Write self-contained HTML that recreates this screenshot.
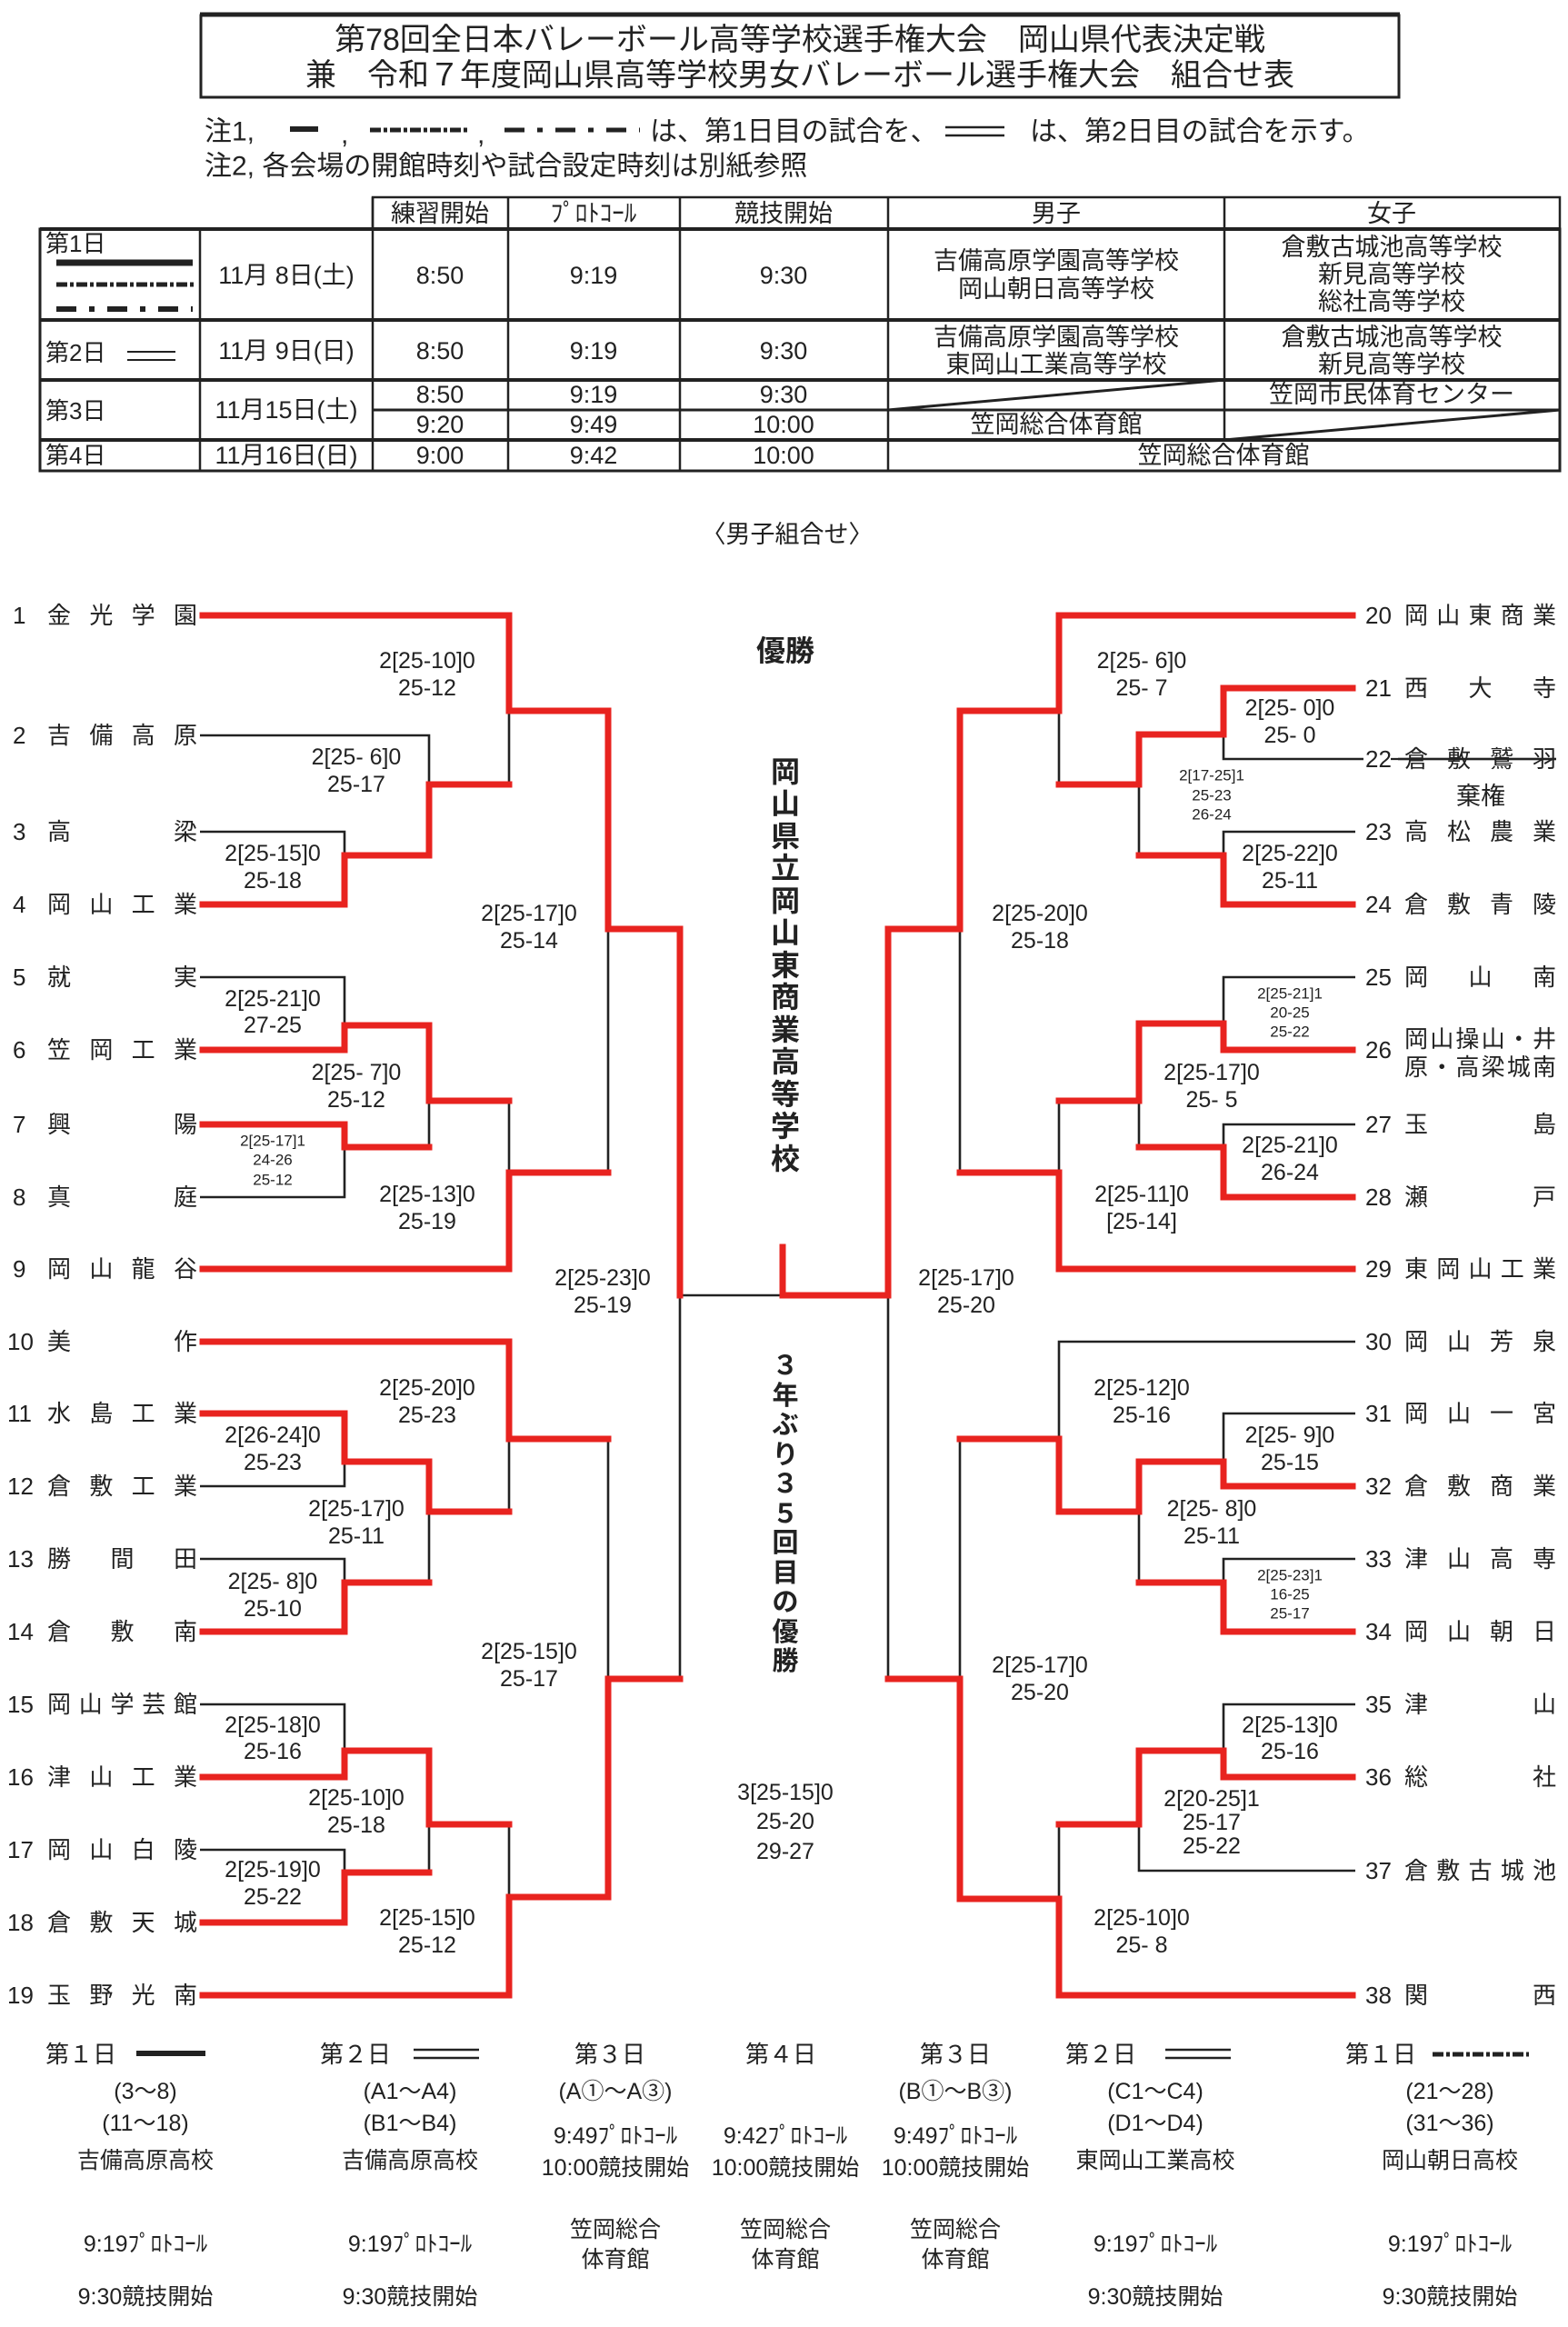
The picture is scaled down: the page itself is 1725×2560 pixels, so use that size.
<!DOCTYPE html>
<html><head><meta charset="utf-8">
<style>
html,body{margin:0;padding:0;background:#fff;}
svg{display:block;}
text{font-family:"Liberation Sans","Noto Sans CJK JP",sans-serif;fill:#222;}
.r{fill:none;stroke:#e8231f;stroke-width:7;stroke-linejoin:miter;stroke-linecap:square;}
.b{fill:none;stroke:#222;stroke-width:2.6;}
.lb{font-size:25px;text-anchor:middle;dominant-baseline:central;}
.sm{font-size:17px;text-anchor:middle;dominant-baseline:central;}
.nm{font-size:26px;dominant-baseline:central;}
.t{font-size:27px;text-anchor:middle;dominant-baseline:central;}
.bl{font-size:25px;text-anchor:middle;dominant-baseline:central;}
</style></head><body>
<svg width="1725" height="2560" viewBox="0 0 1725 2560" xmlns="http://www.w3.org/2000/svg">
<rect x="221" y="17" width="1318" height="90" fill="none" stroke="#222" stroke-width="3"/>
<line x1="220" y1="16" x2="1540" y2="16" stroke="#222" stroke-width="5"/>
<text x="880" y="44" font-size="34" text-anchor="middle" dominant-baseline="central">第78回全日本バレーボール高等学校選手権大会　岡山県代表決定戦</text>
<text x="880" y="83" font-size="34" text-anchor="middle" dominant-baseline="central">兼　令和７年度岡山県高等学校男女バレーボール選手権大会　組合せ表</text>
<text x="225" y="145" font-size="30" dominant-baseline="central">注1,</text>
<line x1="319" y1="142" x2="350" y2="142" stroke="#222" stroke-width="6"/>
<text x="375" y="148" font-size="30" dominant-baseline="central">,</text>
<line x1="407" y1="143" x2="517" y2="143" stroke="#222" stroke-width="5" stroke-dasharray="12,3,4,3"/>
<text x="525" y="148" font-size="30" dominant-baseline="central">,</text>
<line x1="555" y1="143" x2="704" y2="143" stroke="#222" stroke-width="5" stroke-dasharray="22,14,6,14"/>
<text x="715" y="145" font-size="30" dominant-baseline="central">は、第1日目の試合を、</text>
<line x1="1040" y1="140" x2="1105" y2="140" stroke="#222" stroke-width="2.5"/>
<line x1="1040" y1="149" x2="1105" y2="149" stroke="#222" stroke-width="2.5"/>
<text x="1133" y="145" font-size="30" dominant-baseline="central">は、第2日目の試合を示す。</text>
<text x="225" y="183" font-size="30" dominant-baseline="central">注2, 各会場の開館時刻や試合設定時刻は別紙参照</text>
<g stroke="#222" fill="none">
<rect x="410" y="217" width="1306" height="35" stroke-width="2.5"/>
<rect x="44" y="252" width="1672" height="266" stroke-width="3"/>
<line x1="44" y1="252" x2="1716" y2="252" stroke-width="4"/>
<line x1="44" y1="352" x2="1716" y2="352" stroke-width="4"/>
<line x1="44" y1="418" x2="1716" y2="418" stroke-width="4"/>
<line x1="410" y1="451" x2="1716" y2="451" stroke-width="3"/>
<line x1="44" y1="484" x2="1716" y2="484" stroke-width="4"/>
<line x1="220" y1="252" x2="220" y2="518" stroke-width="2.5"/>
<line x1="410" y1="217" x2="410" y2="518" stroke-width="2.5"/>
<line x1="559" y1="217" x2="559" y2="518" stroke-width="2.5"/>
<line x1="748" y1="217" x2="748" y2="518" stroke-width="2.5"/>
<line x1="977" y1="217" x2="977" y2="518" stroke-width="2.5"/>
<line x1="1347" y1="217" x2="1347" y2="484" stroke-width="2.5"/>
<line x1="977" y1="451" x2="1347" y2="418" stroke-width="3"/>
<line x1="1347" y1="484" x2="1716" y2="451" stroke-width="3"/>
<line x1="62" y1="289" x2="212" y2="289" stroke-width="7"/>
<line x1="62" y1="313" x2="216" y2="313" stroke-width="5" stroke-dasharray="12,3,4,3"/>
<line x1="62" y1="340" x2="212" y2="340" stroke-width="6" stroke-dasharray="22,14,6,14"/>
<line x1="140" y1="387" x2="193" y2="387" stroke-width="2"/>
<line x1="140" y1="396" x2="193" y2="396" stroke-width="2"/>
</g>
<text class="t" x="484" y="235">練習開始</text>
<text class="t" x="653" y="235" font-size="20">ﾌﾟﾛﾄｺｰﾙ</text>
<text class="t" x="862" y="235">競技開始</text>
<text class="t" x="1162" y="235">男子</text>
<text class="t" x="1531" y="235">女子</text>
<text class="nm" x="50" y="268">第1日</text>
<text class="t" x="315" y="303">11月 8日(土)</text>
<text class="t" x="484" y="303">8:50</text><text class="t" x="653" y="303">9:19</text><text class="t" x="862" y="303">9:30</text>
<text class="t" x="1162" y="287">吉備高原学園高等学校</text>
<text class="t" x="1162" y="318">岡山朝日高等学校</text>
<text class="t" x="1531" y="272">倉敷古城池高等学校</text>
<text class="t" x="1531" y="302">新見高等学校</text>
<text class="t" x="1531" y="332">総社高等学校</text>
<text class="nm" x="50" y="388">第2日</text>
<text class="t" x="315" y="386">11月 9日(日)</text>
<text class="t" x="484" y="386">8:50</text><text class="t" x="653" y="386">9:19</text><text class="t" x="862" y="386">9:30</text>
<text class="t" x="1162" y="371">吉備高原学園高等学校</text>
<text class="t" x="1162" y="401">東岡山工業高等学校</text>
<text class="t" x="1531" y="371">倉敷古城池高等学校</text>
<text class="t" x="1531" y="401">新見高等学校</text>
<text class="nm" x="50" y="452">第3日</text>
<text class="t" x="315" y="451">11月15日(土)</text>
<text class="t" x="484" y="434">8:50</text><text class="t" x="653" y="434">9:19</text><text class="t" x="862" y="434">9:30</text>
<text class="t" x="1531" y="434">笠岡市民体育センター</text>
<text class="t" x="484" y="467">9:20</text><text class="t" x="653" y="467">9:49</text><text class="t" x="862" y="467">10:00</text>
<text class="t" x="1162" y="467">笠岡総合体育館</text>
<text class="nm" x="50" y="501">第4日</text>
<text class="t" x="315" y="501">11月16日(日)</text>
<text class="t" x="484" y="501">9:00</text><text class="t" x="653" y="501">9:42</text><text class="t" x="862" y="501">10:00</text>
<text class="t" x="1346" y="501">笠岡総合体育館</text>
<text class="t" x="866" y="588" font-size="32">〈男子組合せ〉</text>

<path class="b" d="M560 782V863 M669 1022V1290 M748 1425H861 M220 809H472V941 M220 915H379V941 M220 1075H379V1128 M220 1317H379V1262 M472 1211V1262 M560 1211V1290
M748 1425V1847 M220 1635H379V1608 M560 1583V1663 M220 1715H379V1741 M472 1663V1741 M669 1583V1847 M220 1875H379V1926 M220 2035H379V2060 M472 2007V2060 M560 2007V2087
M1165 782V863 M1712 835H1346V808 M1491 915H1346V941 M1253 863V941 M1491 1075H1346V1126 M1491 1237H1346V1262 M1253 1211V1262 M1165 1211V1290 M1056 1022V1290
M977 1425V1847 M1491 1476H1165V1583 M1491 1555H1346V1608 M1491 1715H1346V1741 M1253 1663V1741 M1056 1583V1847 M1491 1875H1346V1926 M1491 2058H1253V2007 M1165 2007V2089"/>
<path class="r" d="M223 677H560V782H669V1022H748V1425"/>
<path class="r" d="M223 995H379V941H472V863H560"/>
<path class="r" d="M223 1155H379V1128H472V1211H560"/>
<path class="r" d="M223 1237H379V1262H472"/>
<path class="r" d="M223 1396H560V1290H669"/>
<path class="r" d="M223 1476H560V1583H669"/>
<path class="r" d="M223 1555H379V1608H472V1663H560"/>
<path class="r" d="M223 1795H379V1741H472"/>
<path class="r" d="M223 1955H379V1926H472V2007H560"/>
<path class="r" d="M223 2115H379V2060H472"/>
<path class="r" d="M223 2195H560V2087H669V1847H748"/>
<path class="r" d="M1488 677H1165V782H1056V1022H977V1425H861V1372"/>
<path class="r" d="M1488 757H1346V808H1253V863H1165"/>
<path class="r" d="M1488 995H1346V941H1253"/>
<path class="r" d="M1488 1155H1346V1126H1253V1211H1165"/>
<path class="r" d="M1488 1317H1346V1262H1253"/>
<path class="r" d="M1488 1396H1165V1290H1056"/>
<path class="r" d="M1488 1635H1346V1608H1253V1663H1165V1583H1056"/>
<path class="r" d="M1488 1795H1346V1741H1253"/>
<path class="r" d="M1488 1955H1346V1926H1253V2007H1165"/>
<path class="r" d="M1488 2195H1165V2089H1056V1847H977"/>

<text class="nm" x="14" y="677">1</text><text class="nm" x="52" y="677" textLength="165" lengthAdjust="spacing">金光学園</text>
<text class="nm" x="14" y="809">2</text><text class="nm" x="52" y="809" textLength="165" lengthAdjust="spacing">吉備高原</text>
<text class="nm" x="14" y="915">3</text><text class="nm" x="52" y="915" textLength="165" lengthAdjust="spacing">高梁</text>
<text class="nm" x="14" y="995">4</text><text class="nm" x="52" y="995" textLength="165" lengthAdjust="spacing">岡山工業</text>
<text class="nm" x="14" y="1075">5</text><text class="nm" x="52" y="1075" textLength="165" lengthAdjust="spacing">就実</text>
<text class="nm" x="14" y="1155">6</text><text class="nm" x="52" y="1155" textLength="165" lengthAdjust="spacing">笠岡工業</text>
<text class="nm" x="14" y="1237">7</text><text class="nm" x="52" y="1237" textLength="165" lengthAdjust="spacing">興陽</text>
<text class="nm" x="14" y="1317">8</text><text class="nm" x="52" y="1317" textLength="165" lengthAdjust="spacing">真庭</text>
<text class="nm" x="14" y="1396">9</text><text class="nm" x="52" y="1396" textLength="165" lengthAdjust="spacing">岡山龍谷</text>
<text class="nm" x="8" y="1476">10</text><text class="nm" x="52" y="1476" textLength="165" lengthAdjust="spacing">美作</text>
<text class="nm" x="8" y="1555">11</text><text class="nm" x="52" y="1555" textLength="165" lengthAdjust="spacing">水島工業</text>
<text class="nm" x="8" y="1635">12</text><text class="nm" x="52" y="1635" textLength="165" lengthAdjust="spacing">倉敷工業</text>
<text class="nm" x="8" y="1715">13</text><text class="nm" x="52" y="1715" textLength="165" lengthAdjust="spacing">勝間田</text>
<text class="nm" x="8" y="1795">14</text><text class="nm" x="52" y="1795" textLength="165" lengthAdjust="spacing">倉敷南</text>
<text class="nm" x="8" y="1875">15</text><text class="nm" x="52" y="1875" textLength="165" lengthAdjust="spacing">岡山学芸館</text>
<text class="nm" x="8" y="1955">16</text><text class="nm" x="52" y="1955" textLength="165" lengthAdjust="spacing">津山工業</text>
<text class="nm" x="8" y="2035">17</text><text class="nm" x="52" y="2035" textLength="165" lengthAdjust="spacing">岡山白陵</text>
<text class="nm" x="8" y="2115">18</text><text class="nm" x="52" y="2115" textLength="165" lengthAdjust="spacing">倉敷天城</text>
<text class="nm" x="8" y="2195">19</text><text class="nm" x="52" y="2195" textLength="165" lengthAdjust="spacing">玉野光南</text>

<text class="nm" x="1502" y="677">20</text><text class="nm" x="1545" y="677" textLength="167" lengthAdjust="spacing">岡山東商業</text>
<text class="nm" x="1502" y="757">21</text><text class="nm" x="1545" y="757" textLength="167" lengthAdjust="spacing">西大寺</text>
<rect x="1500" y="820" width="38" height="30" fill="#fff"/>
<text class="nm" x="1502" y="835">22</text><text class="nm" x="1545" y="835" textLength="167" lengthAdjust="spacing">倉敷鷲羽</text>
<line x1="1530" y1="835" x2="1712" y2="835" stroke="#222" stroke-width="2.2"/>
<text class="t" x="1629" y="876">棄権</text>
<text class="nm" x="1502" y="915">23</text><text class="nm" x="1545" y="915" textLength="167" lengthAdjust="spacing">高松農業</text>
<text class="nm" x="1502" y="995">24</text><text class="nm" x="1545" y="995" textLength="167" lengthAdjust="spacing">倉敷青陵</text>
<text class="nm" x="1502" y="1075">25</text><text class="nm" x="1545" y="1075" textLength="167" lengthAdjust="spacing">岡山南</text>
<text class="nm" x="1502" y="1155">26</text>
<text class="nm" x="1545" y="1143" textLength="167" lengthAdjust="spacing">岡山操山・井</text>
<text class="nm" x="1545" y="1174" textLength="167" lengthAdjust="spacing">原・高梁城南</text>
<text class="nm" x="1502" y="1237">27</text><text class="nm" x="1545" y="1237" textLength="167" lengthAdjust="spacing">玉島</text>
<text class="nm" x="1502" y="1317">28</text><text class="nm" x="1545" y="1317" textLength="167" lengthAdjust="spacing">瀬戸</text>
<text class="nm" x="1502" y="1396">29</text><text class="nm" x="1545" y="1396" textLength="167" lengthAdjust="spacing">東岡山工業</text>
<text class="nm" x="1502" y="1476">30</text><text class="nm" x="1545" y="1476" textLength="167" lengthAdjust="spacing">岡山芳泉</text>
<text class="nm" x="1502" y="1555">31</text><text class="nm" x="1545" y="1555" textLength="167" lengthAdjust="spacing">岡山一宮</text>
<text class="nm" x="1502" y="1635">32</text><text class="nm" x="1545" y="1635" textLength="167" lengthAdjust="spacing">倉敷商業</text>
<text class="nm" x="1502" y="1715">33</text><text class="nm" x="1545" y="1715" textLength="167" lengthAdjust="spacing">津山高専</text>
<text class="nm" x="1502" y="1795">34</text><text class="nm" x="1545" y="1795" textLength="167" lengthAdjust="spacing">岡山朝日</text>
<text class="nm" x="1502" y="1875">35</text><text class="nm" x="1545" y="1875" textLength="167" lengthAdjust="spacing">津山</text>
<text class="nm" x="1502" y="1955">36</text><text class="nm" x="1545" y="1955" textLength="167" lengthAdjust="spacing">総社</text>
<text class="nm" x="1502" y="2058">37</text><text class="nm" x="1545" y="2058" textLength="167" lengthAdjust="spacing">倉敷古城池</text>
<text class="nm" x="1502" y="2195">38</text><text class="nm" x="1545" y="2195" textLength="167" lengthAdjust="spacing">関西</text>

<text class="lb" x="470" y="727">2[25-10]0</text><text class="lb" x="470" y="757">25-12</text>
<text class="lb" x="392" y="833">2[25- 6]0</text><text class="lb" x="392" y="863">25-17</text>
<text class="lb" x="300" y="939">2[25-15]0</text><text class="lb" x="300" y="969">25-18</text>
<text class="lb" x="582" y="1005">2[25-17]0</text><text class="lb" x="582" y="1035">25-14</text>
<text class="lb" x="300" y="1099">2[25-21]0</text><text class="lb" x="300" y="1128">27-25</text>
<text class="lb" x="392" y="1180">2[25- 7]0</text><text class="lb" x="392" y="1210">25-12</text>
<text class="sm" x="300" y="1255">2[25-17]1</text><text class="sm" x="300" y="1276">24-26</text><text class="sm" x="300" y="1298">25-12</text>
<text class="lb" x="470" y="1314">2[25-13]0</text><text class="lb" x="470" y="1344">25-19</text>
<text class="lb" x="663" y="1406">2[25-23]0</text><text class="lb" x="663" y="1436">25-19</text>
<text class="lb" x="470" y="1527">2[25-20]0</text><text class="lb" x="470" y="1557">25-23</text>
<text class="lb" x="300" y="1579">2[26-24]0</text><text class="lb" x="300" y="1609">25-23</text>
<text class="lb" x="392" y="1660">2[25-17]0</text><text class="lb" x="392" y="1690">25-11</text>
<text class="lb" x="300" y="1740">2[25- 8]0</text><text class="lb" x="300" y="1770">25-10</text>
<text class="lb" x="582" y="1817">2[25-15]0</text><text class="lb" x="582" y="1847">25-17</text>
<text class="lb" x="300" y="1898">2[25-18]0</text><text class="lb" x="300" y="1927">25-16</text>
<text class="lb" x="392" y="1978">2[25-10]0</text><text class="lb" x="392" y="2008">25-18</text>
<text class="lb" x="300" y="2057">2[25-19]0</text><text class="lb" x="300" y="2087">25-22</text>
<text class="lb" x="470" y="2110">2[25-15]0</text><text class="lb" x="470" y="2140">25-12</text>
<text class="lb" x="1256" y="727">2[25- 6]0</text><text class="lb" x="1256" y="757">25- 7</text>
<text class="lb" x="1419" y="779">2[25- 0]0</text><text class="lb" x="1419" y="809">25- 0</text>
<text class="sm" x="1333" y="853">2[17-25]1</text><text class="sm" x="1333" y="875">25-23</text><text class="sm" x="1333" y="896">26-24</text>
<text class="lb" x="1419" y="939">2[25-22]0</text><text class="lb" x="1419" y="969">25-11</text>
<text class="lb" x="1144" y="1005">2[25-20]0</text><text class="lb" x="1144" y="1035">25-18</text>
<text class="sm" x="1419" y="1093">2[25-21]1</text><text class="sm" x="1419" y="1114">20-25</text><text class="sm" x="1419" y="1135">25-22</text>
<text class="lb" x="1333" y="1180">2[25-17]0</text><text class="lb" x="1333" y="1210">25- 5</text>
<text class="lb" x="1419" y="1260">2[25-21]0</text><text class="lb" x="1419" y="1290">26-24</text>
<text class="lb" x="1256" y="1314">2[25-11]0</text><text class="lb" x="1256" y="1344">[25-14]</text>
<text class="lb" x="1063" y="1406">2[25-17]0</text><text class="lb" x="1063" y="1436">25-20</text>
<text class="lb" x="1256" y="1527">2[25-12]0</text><text class="lb" x="1256" y="1557">25-16</text>
<text class="lb" x="1419" y="1579">2[25- 9]0</text><text class="lb" x="1419" y="1609">25-15</text>
<text class="lb" x="1333" y="1660">2[25- 8]0</text><text class="lb" x="1333" y="1690">25-11</text>
<text class="sm" x="1419" y="1733">2[25-23]1</text><text class="sm" x="1419" y="1754">16-25</text><text class="sm" x="1419" y="1775">25-17</text>
<text class="lb" x="1144" y="1832">2[25-17]0</text><text class="lb" x="1144" y="1862">25-20</text>
<text class="lb" x="1419" y="1898">2[25-13]0</text><text class="lb" x="1419" y="1927">25-16</text>
<text class="lb" x="1333" y="1979">2[20-25]1</text><text class="lb" x="1333" y="2005">25-17</text><text class="lb" x="1333" y="2031">25-22</text>
<text class="lb" x="1256" y="2110">2[25-10]0</text><text class="lb" x="1256" y="2140">25- 8</text>
<text class="lb" x="864" y="1972">3[25-15]0</text><text class="lb" x="864" y="2004">25-20</text><text class="lb" x="864" y="2037">29-27</text>

<g font-weight="bold" font-size="32" text-anchor="middle" dominant-baseline="central">
<text x="864" y="716">優勝</text>
<text x="864" y="849">岡</text><text x="864" y="884">山</text><text x="864" y="920">県</text><text x="864" y="955">立</text><text x="864" y="991">岡</text><text x="864" y="1026">山</text><text x="864" y="1062">東</text><text x="864" y="1097">商</text><text x="864" y="1133">業</text><text x="864" y="1168">高</text><text x="864" y="1204">等</text><text x="864" y="1239">学</text><text x="864" y="1275">校</text>
<text x="864" y="1503" font-size="29">３</text><text x="864" y="1536" font-size="29">年</text><text x="864" y="1568" font-size="29">ぶ</text><text x="864" y="1601" font-size="29">り</text><text x="864" y="1633" font-size="29">３</text><text x="864" y="1666" font-size="29">５</text><text x="864" y="1698" font-size="29">回</text><text x="864" y="1731" font-size="29">目</text><text x="864" y="1763" font-size="29">の</text><text x="864" y="1796" font-size="29">優</text><text x="864" y="1828" font-size="29">勝</text>
</g>

<text class="nm" x="50" y="2260" font-size="25">第１日</text>
<line x1="150" y1="2259" x2="226" y2="2259" stroke="#222" stroke-width="6"/>
<text class="nm" x="352" y="2260" font-size="25">第２日</text>
<line x1="455" y1="2255" x2="527" y2="2255" stroke="#222" stroke-width="2.5"/>
<line x1="455" y1="2264" x2="527" y2="2264" stroke="#222" stroke-width="2.5"/>
<text class="nm" x="632" y="2260" font-size="25">第３日</text>
<text class="nm" x="820" y="2260" font-size="25">第４日</text>
<text class="nm" x="1012" y="2260" font-size="25">第３日</text>
<text class="nm" x="1172" y="2260" font-size="25">第２日</text>
<line x1="1282" y1="2255" x2="1354" y2="2255" stroke="#222" stroke-width="2.5"/>
<line x1="1282" y1="2264" x2="1354" y2="2264" stroke="#222" stroke-width="2.5"/>
<text class="nm" x="1480" y="2260" font-size="25">第１日</text>
<line x1="1576" y1="2260" x2="1682" y2="2260" stroke="#222" stroke-width="5" stroke-dasharray="12,3,4,3"/>

<text class="bl" x="160" y="2301">(3～8)</text>
<text class="bl" x="160" y="2336">(11～18)</text>
<text class="bl" x="160" y="2377">吉備高原高校</text>
<text class="bl" x="160" y="2469">9:19ﾌﾟﾛﾄｺｰﾙ</text>
<text class="bl" x="160" y="2527">9:30競技開始</text>
<text class="bl" x="451" y="2301">(A1～A4)</text>
<text class="bl" x="451" y="2336">(B1～B4)</text>
<text class="bl" x="451" y="2377">吉備高原高校</text>
<text class="bl" x="451" y="2469">9:19ﾌﾟﾛﾄｺｰﾙ</text>
<text class="bl" x="451" y="2527">9:30競技開始</text>
<text class="bl" x="677" y="2301">(A①～A③)</text>
<text class="bl" x="677" y="2350">9:49ﾌﾟﾛﾄｺｰﾙ</text>
<text class="bl" x="677" y="2385">10:00競技開始</text>
<text class="bl" x="677" y="2453">笠岡総合</text>
<text class="bl" x="677" y="2486">体育館</text>
<text class="bl" x="864" y="2350">9:42ﾌﾟﾛﾄｺｰﾙ</text>
<text class="bl" x="864" y="2385">10:00競技開始</text>
<text class="bl" x="864" y="2453">笠岡総合</text>
<text class="bl" x="864" y="2486">体育館</text>
<text class="bl" x="1051" y="2301">(B①～B③)</text>
<text class="bl" x="1051" y="2350">9:49ﾌﾟﾛﾄｺｰﾙ</text>
<text class="bl" x="1051" y="2385">10:00競技開始</text>
<text class="bl" x="1051" y="2453">笠岡総合</text>
<text class="bl" x="1051" y="2486">体育館</text>
<text class="bl" x="1271" y="2301">(C1～C4)</text>
<text class="bl" x="1271" y="2336">(D1～D4)</text>
<text class="bl" x="1271" y="2377">東岡山工業高校</text>
<text class="bl" x="1271" y="2469">9:19ﾌﾟﾛﾄｺｰﾙ</text>
<text class="bl" x="1271" y="2527">9:30競技開始</text>
<text class="bl" x="1595" y="2301">(21～28)</text>
<text class="bl" x="1595" y="2336">(31～36)</text>
<text class="bl" x="1595" y="2377">岡山朝日高校</text>
<text class="bl" x="1595" y="2469">9:19ﾌﾟﾛﾄｺｰﾙ</text>
<text class="bl" x="1595" y="2527">9:30競技開始</text>
</svg>
</body></html>
